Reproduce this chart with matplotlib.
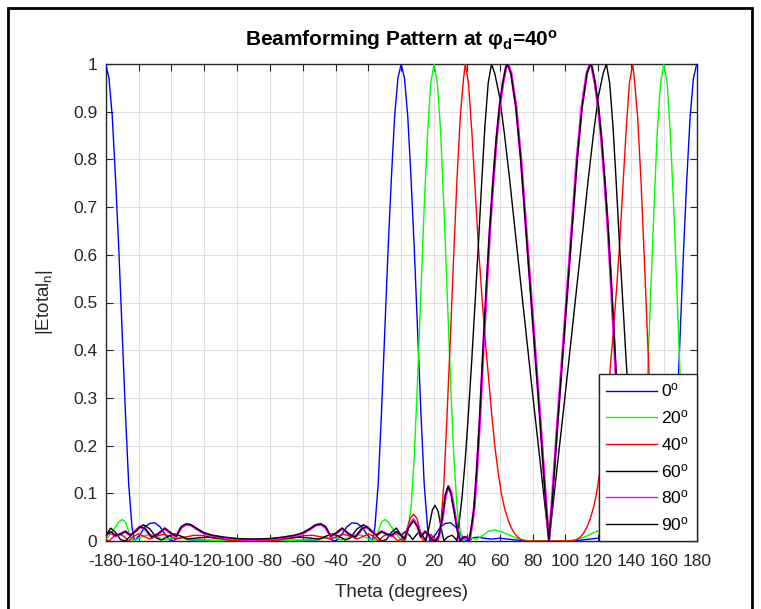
import matplotlib
matplotlib.use("Agg")
import matplotlib.pyplot as plt
from matplotlib.patches import Rectangle

plt.rcParams['font.family'] = ['Liberation Sans', 'DejaVu Sans']
plt.rcParams['mathtext.fontset'] = 'custom'
plt.rcParams['mathtext.rm'] = 'Liberation Sans'
plt.rcParams['mathtext.it'] = 'Liberation Sans:italic'
plt.rcParams['mathtext.bf'] = 'Liberation Sans:bold'

# ---------------- data (theta in degrees, |Etotal_n|) ----------------
series_labels = ["0", "20", "40", "60", "80", "90"]
series_colors = ["#0000ff", "#00ff00", "#ff0000", "#000000", "#ff00ff", "#000000"]

pts_0 = [(-180, 1.0), (-178, 0.97), (-176, 0.89), (-174, 0.76), (-172, 0.61), (-170, 0.44),
         (-168, 0.27), (-166, 0.12), (-164, 0.03), (-162.5, 0.0), (-159, 0.014), (-156, 0.03),
         (-153, 0.037), (-150, 0.038), (-147, 0.03), (-144, 0.015), (-141, 0.002), (-139, 0.0),
         (-136, 0.007), (-133, 0.008), (-130, 0.003), (-125, 0.002), (-115, 0.001), (-90, 0.0),
         (-65, 0.001), (-55, 0.002), (-50, 0.003), (-47, 0.008), (-44, 0.007), (-41, 0.0),
         (-39, 0.002), (-36, 0.015), (-33, 0.03), (-30, 0.038), (-27, 0.037), (-24, 0.03),
         (-21, 0.014), (-17.5, 0.0), (-16, 0.03), (-14, 0.12), (-12, 0.27), (-10, 0.44),
         (-8, 0.61), (-6, 0.76), (-4, 0.89), (-2, 0.97), (0, 1.0), (2, 0.97), (4, 0.89),
         (6, 0.76), (8, 0.61), (10, 0.44), (12, 0.27), (14, 0.12), (16, 0.03), (17.5, 0.0),
         (21, 0.014), (24, 0.03), (27, 0.037), (30, 0.038), (33, 0.03), (36, 0.015),
         (39, 0.002), (41, 0.0), (44, 0.007), (47, 0.008), (50, 0.006), (55, 0.004),
         (60, 0.006), (65, 0.004), (70, 0.002), (80, 0.0), (100, 0.0), (110, 0.002),
         (115, 0.004), (120, 0.006), (125, 0.004), (130, 0.006), (133, 0.008), (136, 0.007),
         (139, 0.0), (141, 0.002), (144, 0.015), (147, 0.03), (150, 0.038), (153, 0.037),
         (156, 0.03), (159, 0.014), (162.5, 0.0), (164, 0.03), (166, 0.12), (168, 0.27),
         (170, 0.44), (172, 0.61), (174, 0.76), (176, 0.89), (178, 0.97), (180, 1.0)]

pts_20 = [(-180, 0.002), (-178, 0.01), (-175, 0.025), (-172, 0.04), (-170, 0.045), (-168, 0.04),
          (-166, 0.02), (-163.5, 0.0), (-160, 0.005), (-156, 0.012), (-152, 0.013), (-148, 0.008),
          (-144, 0.002), (-140, 0.006), (-135, 0.007), (-130, 0.003), (-120, 0.002), (-100, 0.0),
          (-80, 0.0), (-60, 0.002), (-50, 0.003), (-45, 0.007), (-40, 0.006), (-36, 0.002),
          (-32, 0.008), (-28, 0.013), (-24, 0.012), (-20, 0.005), (-16.5, 0.0), (-14, 0.02),
          (-12, 0.04), (-10, 0.045), (-8, 0.04), (-5, 0.025), (-2, 0.01), (0, 0.002), (2.5, 0.0),
          (4, 0.02), (6, 0.07), (8, 0.18), (10, 0.34), (12, 0.52), (14, 0.70), (16, 0.85),
          (18, 0.96), (20, 1.0), (22, 0.96), (24, 0.86), (26, 0.70), (28, 0.52), (30, 0.34),
          (32, 0.18), (34, 0.07), (36, 0.02), (37.5, 0.0), (40, 0.006), (43, 0.006), (46, 0.004),
          (49, 0.01), (53, 0.02), (57, 0.023), (61, 0.02), (66, 0.012), (71, 0.005), (76, 0.001),
          (85, 0.0), (95, 0.0), (104, 0.001), (109, 0.005), (114, 0.012), (119, 0.02),
          (123, 0.023), (127, 0.02), (131, 0.01), (134, 0.004), (137, 0.006), (140, 0.006),
          (142.5, 0.0), (144, 0.02), (146, 0.07), (148, 0.18), (150, 0.34), (152, 0.52),
          (154, 0.70), (156, 0.86), (158, 0.96), (160, 1.0), (162, 0.96), (164, 0.85),
          (166, 0.70), (168, 0.52), (170, 0.34), (172, 0.18), (174, 0.07), (176, 0.02),
          (177.5, 0.0), (180, 0.002)]

pts_40 = [(-180, 0.004), (-178, 0.0), (-175, 0.01), (-172, 0.015), (-169, 0.01), (-166, 0.0),
          (-163, 0.01), (-160, 0.015), (-157, 0.01), (-153, 0.004), (-149, 0.01), (-145, 0.014),
          (-141, 0.01), (-137, 0.004), (-132, 0.008), (-126, 0.012), (-120, 0.011), (-114, 0.006),
          (-105, 0.002), (-90, 0.0), (-75, 0.002), (-66, 0.006), (-60, 0.011), (-54, 0.012),
          (-48, 0.008), (-43, 0.004), (-39, 0.01), (-35, 0.014), (-31, 0.01), (-27, 0.004),
          (-23, 0.01), (-20, 0.015), (-17, 0.01), (-14, 0.0), (-11, 0.01), (-8, 0.015),
          (-5, 0.01), (-2, 0.0), (0, 0.004), (1.5, 0.0), (3.5, 0.025), (5.5, 0.048), (7.5, 0.056),
          (9.5, 0.048), (11.5, 0.022), (13.5, 0.0), (16, 0.012), (18, 0.014), (20, 0.006),
          (22.5, 0.0), (24, 0.03), (26, 0.12), (28, 0.27), (30, 0.43), (32, 0.60), (34, 0.76),
          (36, 0.89), (38, 0.97), (39, 1.0), (41, 0.96), (43, 0.86), (45, 0.74), (47, 0.62),
          (49, 0.52), (51, 0.43), (53, 0.35), (55, 0.27), (57, 0.20), (59, 0.145), (61, 0.10),
          (63, 0.068), (65, 0.045), (67, 0.028), (69, 0.016), (71, 0.008), (73, 0.003),
          (76, 0.0), (104, 0.0), (107, 0.003), (109, 0.008), (111, 0.016), (113, 0.028),
          (115, 0.045), (117, 0.068), (119, 0.10), (121, 0.145), (123, 0.20), (125, 0.27),
          (127, 0.35), (129, 0.43), (131, 0.52), (133, 0.62), (135, 0.74), (137, 0.86),
          (139, 0.96), (141, 1.0), (142, 0.97), (144, 0.89), (146, 0.76), (148, 0.60),
          (150, 0.43), (152, 0.27), (154, 0.12), (156, 0.03), (157.5, 0.0), (160, 0.006),
          (162, 0.014), (164, 0.012), (166.5, 0.0), (168.5, 0.022), (170.5, 0.048),
          (172.5, 0.056), (174.5, 0.048), (176.5, 0.025), (178.5, 0.0), (180, 0.004)]

pts_60 = [(-180, 0.012), (-177, 0.027), (-174, 0.018), (-171, 0.003), (-168, 0.0), (-165, 0.01),
          (-161, 0.025), (-157, 0.034), (-153, 0.025), (-149, 0.006), (-146, 0.002), (-142, 0.01),
          (-138, 0.015), (-134, 0.01), (-130, 0.004), (-125, 0.006), (-118, 0.008), (-110, 0.006),
          (-100, 0.004), (-90, 0.003), (-80, 0.004), (-70, 0.006), (-62, 0.008), (-55, 0.006),
          (-50, 0.004), (-46, 0.01), (-42, 0.015), (-38, 0.01), (-34, 0.002), (-31, 0.006),
          (-27, 0.025), (-23, 0.034), (-19, 0.025), (-15, 0.01), (-12, 0.0), (-9, 0.003),
          (-6, 0.018), (-3, 0.027), (0, 0.012), (2.5, 0.02), (5, 0.012), (7, 0.003), (9, 0.012),
          (11, 0.02), (13, 0.012), (15, 0.0), (17, 0.03), (19, 0.065), (20.6, 0.075),
          (22.5, 0.062), (24.5, 0.025), (26, 0.0), (28, 0.008), (31, 0.012), (33, 0.005),
          (34, 0.0), (35, 0.03), (37, 0.09), (39, 0.17), (41, 0.27), (43, 0.38), (45, 0.50),
          (47, 0.62), (49, 0.75), (51, 0.87), (53, 0.96), (55, 1.0), (57, 0.98), (60, 0.93),
          (63, 0.85), (66, 0.76), (70, 0.63), (75, 0.47), (80, 0.31), (85, 0.155), (88, 0.06),
          (90, 0.0), (92, 0.06), (95, 0.155), (100, 0.31), (105, 0.47), (110, 0.63),
          (114, 0.76), (117, 0.85), (120, 0.93), (123, 0.98), (125, 1.0), (127, 0.96),
          (129, 0.87), (131, 0.75), (133, 0.62), (135, 0.50), (137, 0.38), (139, 0.27),
          (141, 0.17), (143, 0.09), (145, 0.03), (146, 0.0), (147, 0.005), (149, 0.012),
          (152, 0.008), (154, 0.0), (155.5, 0.025), (157.5, 0.062), (159.4, 0.075),
          (161, 0.065), (163, 0.03), (165, 0.0), (167, 0.012), (169, 0.02), (171, 0.012),
          (173, 0.003), (175, 0.012), (177.5, 0.02), (180, 0.012)]

pts_80 = [(-180, 0.012), (-177, 0.018), (-174, 0.01), (-171, 0.015), (-168, 0.02), (-165, 0.012),
          (-162, 0.02), (-159, 0.03), (-156, 0.025), (-152, 0.008), (-148, 0.015), (-144, 0.026),
          (-140, 0.015), (-137, 0.01), (-134, 0.028), (-131, 0.035), (-128, 0.033), (-124, 0.024),
          (-120, 0.016), (-115, 0.011), (-108, 0.007), (-100, 0.004), (-90, 0.003), (-80, 0.004),
          (-72, 0.007), (-65, 0.011), (-60, 0.016), (-56, 0.024), (-52, 0.033), (-49, 0.035),
          (-46, 0.028), (-43, 0.01), (-40, 0.015), (-36, 0.026), (-32, 0.015), (-28, 0.008),
          (-24, 0.025), (-21, 0.03), (-18, 0.02), (-15, 0.012), (-12, 0.02), (-9, 0.015),
          (-6, 0.01), (-3, 0.018), (0, 0.012), (2, 0.004), (4.5, 0.03), (7.5, 0.045), (10, 0.03),
          (12, 0.008), (14.5, 0.02), (17, 0.012), (19, 0.002), (21, 0.0), (23, 0.01),
          (25, 0.045), (27, 0.095), (28.8, 0.114), (30.5, 0.10), (32.5, 0.062), (34.5, 0.02),
          (36, 0.0), (38, 0.008), (40, 0.008), (41.5, 0.0), (43, 0.03), (44.5, 0.07), (46, 0.14),
          (48, 0.26), (50, 0.40), (52, 0.53), (54, 0.65), (56, 0.75), (58, 0.84), (60, 0.91),
          (62, 0.96), (64, 0.995), (65, 1.0), (67, 0.98), (70, 0.91), (73, 0.80), (76, 0.66),
          (79, 0.52), (82, 0.38), (85, 0.24), (88, 0.09), (90, 0.0), (92, 0.09), (95, 0.24),
          (98, 0.38), (101, 0.52), (104, 0.66), (107, 0.80), (110, 0.91), (113, 0.98),
          (115, 1.0), (116, 0.995), (118, 0.96), (120, 0.91), (122, 0.84), (124, 0.75),
          (126, 0.65), (128, 0.53), (130, 0.40), (132, 0.26), (134, 0.14), (135.5, 0.07),
          (137, 0.03), (138.5, 0.0), (140, 0.008), (142, 0.008), (144, 0.0), (145.5, 0.02),
          (147.5, 0.062), (149.5, 0.10), (151.2, 0.114), (153, 0.095), (155, 0.045),
          (157, 0.01), (159, 0.0), (161, 0.002), (163, 0.012), (165.5, 0.02), (168, 0.008),
          (170, 0.03), (172.5, 0.045), (175.5, 0.03), (178, 0.004), (180, 0.012)]

pts_90 = [(-180, 0.012), (-177, 0.02), (-174, 0.012), (-171, 0.014), (-168, 0.02), (-165, 0.012),
          (-162, 0.02), (-159, 0.03), (-156, 0.026), (-152, 0.008), (-148, 0.015), (-144, 0.027),
          (-140, 0.016), (-137, 0.01), (-134, 0.03), (-131, 0.036), (-128, 0.034), (-124, 0.025),
          (-120, 0.017), (-115, 0.012), (-108, 0.008), (-100, 0.005), (-90, 0.004), (-80, 0.005),
          (-72, 0.008), (-65, 0.012), (-60, 0.017), (-56, 0.025), (-52, 0.034), (-49, 0.036),
          (-46, 0.03), (-43, 0.01), (-40, 0.016), (-36, 0.027), (-32, 0.015), (-28, 0.008),
          (-24, 0.026), (-21, 0.03), (-18, 0.02), (-15, 0.012), (-12, 0.02), (-9, 0.014),
          (-6, 0.012), (-3, 0.02), (0, 0.012), (2, 0.004), (4.5, 0.028), (7.5, 0.042), (10, 0.03),
          (12, 0.008), (14.5, 0.02), (17, 0.012), (19, 0.002), (21, 0.0), (23, 0.012),
          (25, 0.048), (27, 0.098), (28.6, 0.115), (30.3, 0.10), (32.3, 0.06), (34.3, 0.02),
          (36, 0.0), (38, 0.008), (40, 0.008), (41.3, 0.0), (42.8, 0.03), (44.3, 0.07),
          (45.8, 0.14), (47.8, 0.26), (49.8, 0.40), (51.8, 0.53), (53.8, 0.65), (55.8, 0.75),
          (57.8, 0.84), (59.8, 0.91), (61.8, 0.96), (63.8, 0.995), (64.8, 1.0), (66.8, 0.98),
          (69.8, 0.91), (72.8, 0.80), (75.8, 0.66), (78.8, 0.52), (81.8, 0.38), (84.8, 0.24),
          (87.8, 0.09), (90, 0.0), (92.2, 0.09), (95.2, 0.24), (98.2, 0.38), (101.2, 0.52),
          (104.2, 0.66), (107.2, 0.80), (110.2, 0.91), (113.2, 0.98), (115.2, 1.0),
          (116.2, 0.995), (118.2, 0.96), (120.2, 0.91), (122.2, 0.84), (124.2, 0.75),
          (126.2, 0.65), (128.2, 0.53), (130.2, 0.40), (132.2, 0.26), (134.2, 0.14),
          (135.7, 0.07), (137.2, 0.03), (138.7, 0.0), (140, 0.008), (142, 0.008), (144, 0.0),
          (145.7, 0.02), (147.7, 0.06), (149.7, 0.10), (151.4, 0.115), (153, 0.098),
          (155, 0.048), (157, 0.012), (159, 0.0), (161, 0.002), (163, 0.012), (165.5, 0.02),
          (168, 0.008), (170, 0.03), (172.5, 0.042), (175.5, 0.028), (178, 0.004), (180, 0.012)]

all_series = [pts_0, pts_20, pts_40, pts_60, pts_80, pts_90]
series_widths = [1.0, 1.0, 1.0, 1.0, 1.9, 1.0]

x_ticks = list(range(-180, 181, 20))
y_ticks = [0, 0.1, 0.2, 0.3, 0.4, 0.5, 0.6, 0.7, 0.8, 0.9, 1]
y_ticklabels = ["0", "0.1", "0.2", "0.3", "0.4", "0.5", "0.6", "0.7", "0.8", "0.9", "1"]

# ---------------- figure ----------------
W, H = 761, 609
fig = plt.figure(figsize=(W / 100, H / 100), dpi=100)
ax = fig.add_axes([105.7 / W, 1 - 541 / H, (696.7 - 105.7) / W, (541 - 64) / H])

axcol = "#262626"
for pts, lab, col, lw in zip(all_series, series_labels, series_colors, series_widths):
    th = [p[0] for p in pts]
    vv = [p[1] for p in pts]
    ax.plot(th, vv, color=col, lw=lw, label=lab + r"$^{\rm o}$", zorder=3)

ax.set_xlim(-180, 180)
ax.set_ylim(0, 1)
ax.set_xticks(x_ticks)
ax.set_xticklabels([str(t) for t in x_ticks])
ax.set_yticks(y_ticks)
ax.set_yticklabels(y_ticklabels)
ax.grid(True, color="#dedede", lw=0.8, zorder=0)
ax.set_axisbelow(True)
ax.tick_params(direction="in", top=True, right=True, length=5, width=0.8,
               labelsize=12.5, colors=axcol)
ax.tick_params(axis="x", pad=9)
ax.tick_params(axis="y", pad=6)
for s in ax.spines.values():
    s.set_color(axcol)
    s.set_linewidth(1.0)

ax.set_title(r"Beamforming Pattern at φ$_\mathbf{d}$=40$^\mathbf{o}$", fontsize=15,
             fontweight="bold", color="black", pad=13)
ax.set_xlabel("Theta (degrees)", fontsize=13.5, color=axcol, labelpad=11)
ax.set_ylabel(r"|Etotal$_{\rm n}$|", fontsize=13.5, color=axcol, labelpad=13)

leg = ax.legend(loc="lower right", bbox_to_anchor=(1.0, 0.0), borderaxespad=0.0,
                fontsize=12.5, handlelength=2.9, handletextpad=0.25, labelspacing=0.5,
                borderpad=0.45, fancybox=False, framealpha=1.0, edgecolor=axcol)
leg.get_frame().set_linewidth(1.0)
leg.set_zorder(5)
for h in leg.get_lines():
    h.set_linewidth(1.0)

# outer frame of the screenshot
fig.patches.append(Rectangle((8 / W, -0.05), (752 - 8) / W, 1.05 - 8 / H,
                             transform=fig.transFigure, fill=False,
                             edgecolor="black", lw=2.0))

fig.savefig("out.png", dpi=100)
